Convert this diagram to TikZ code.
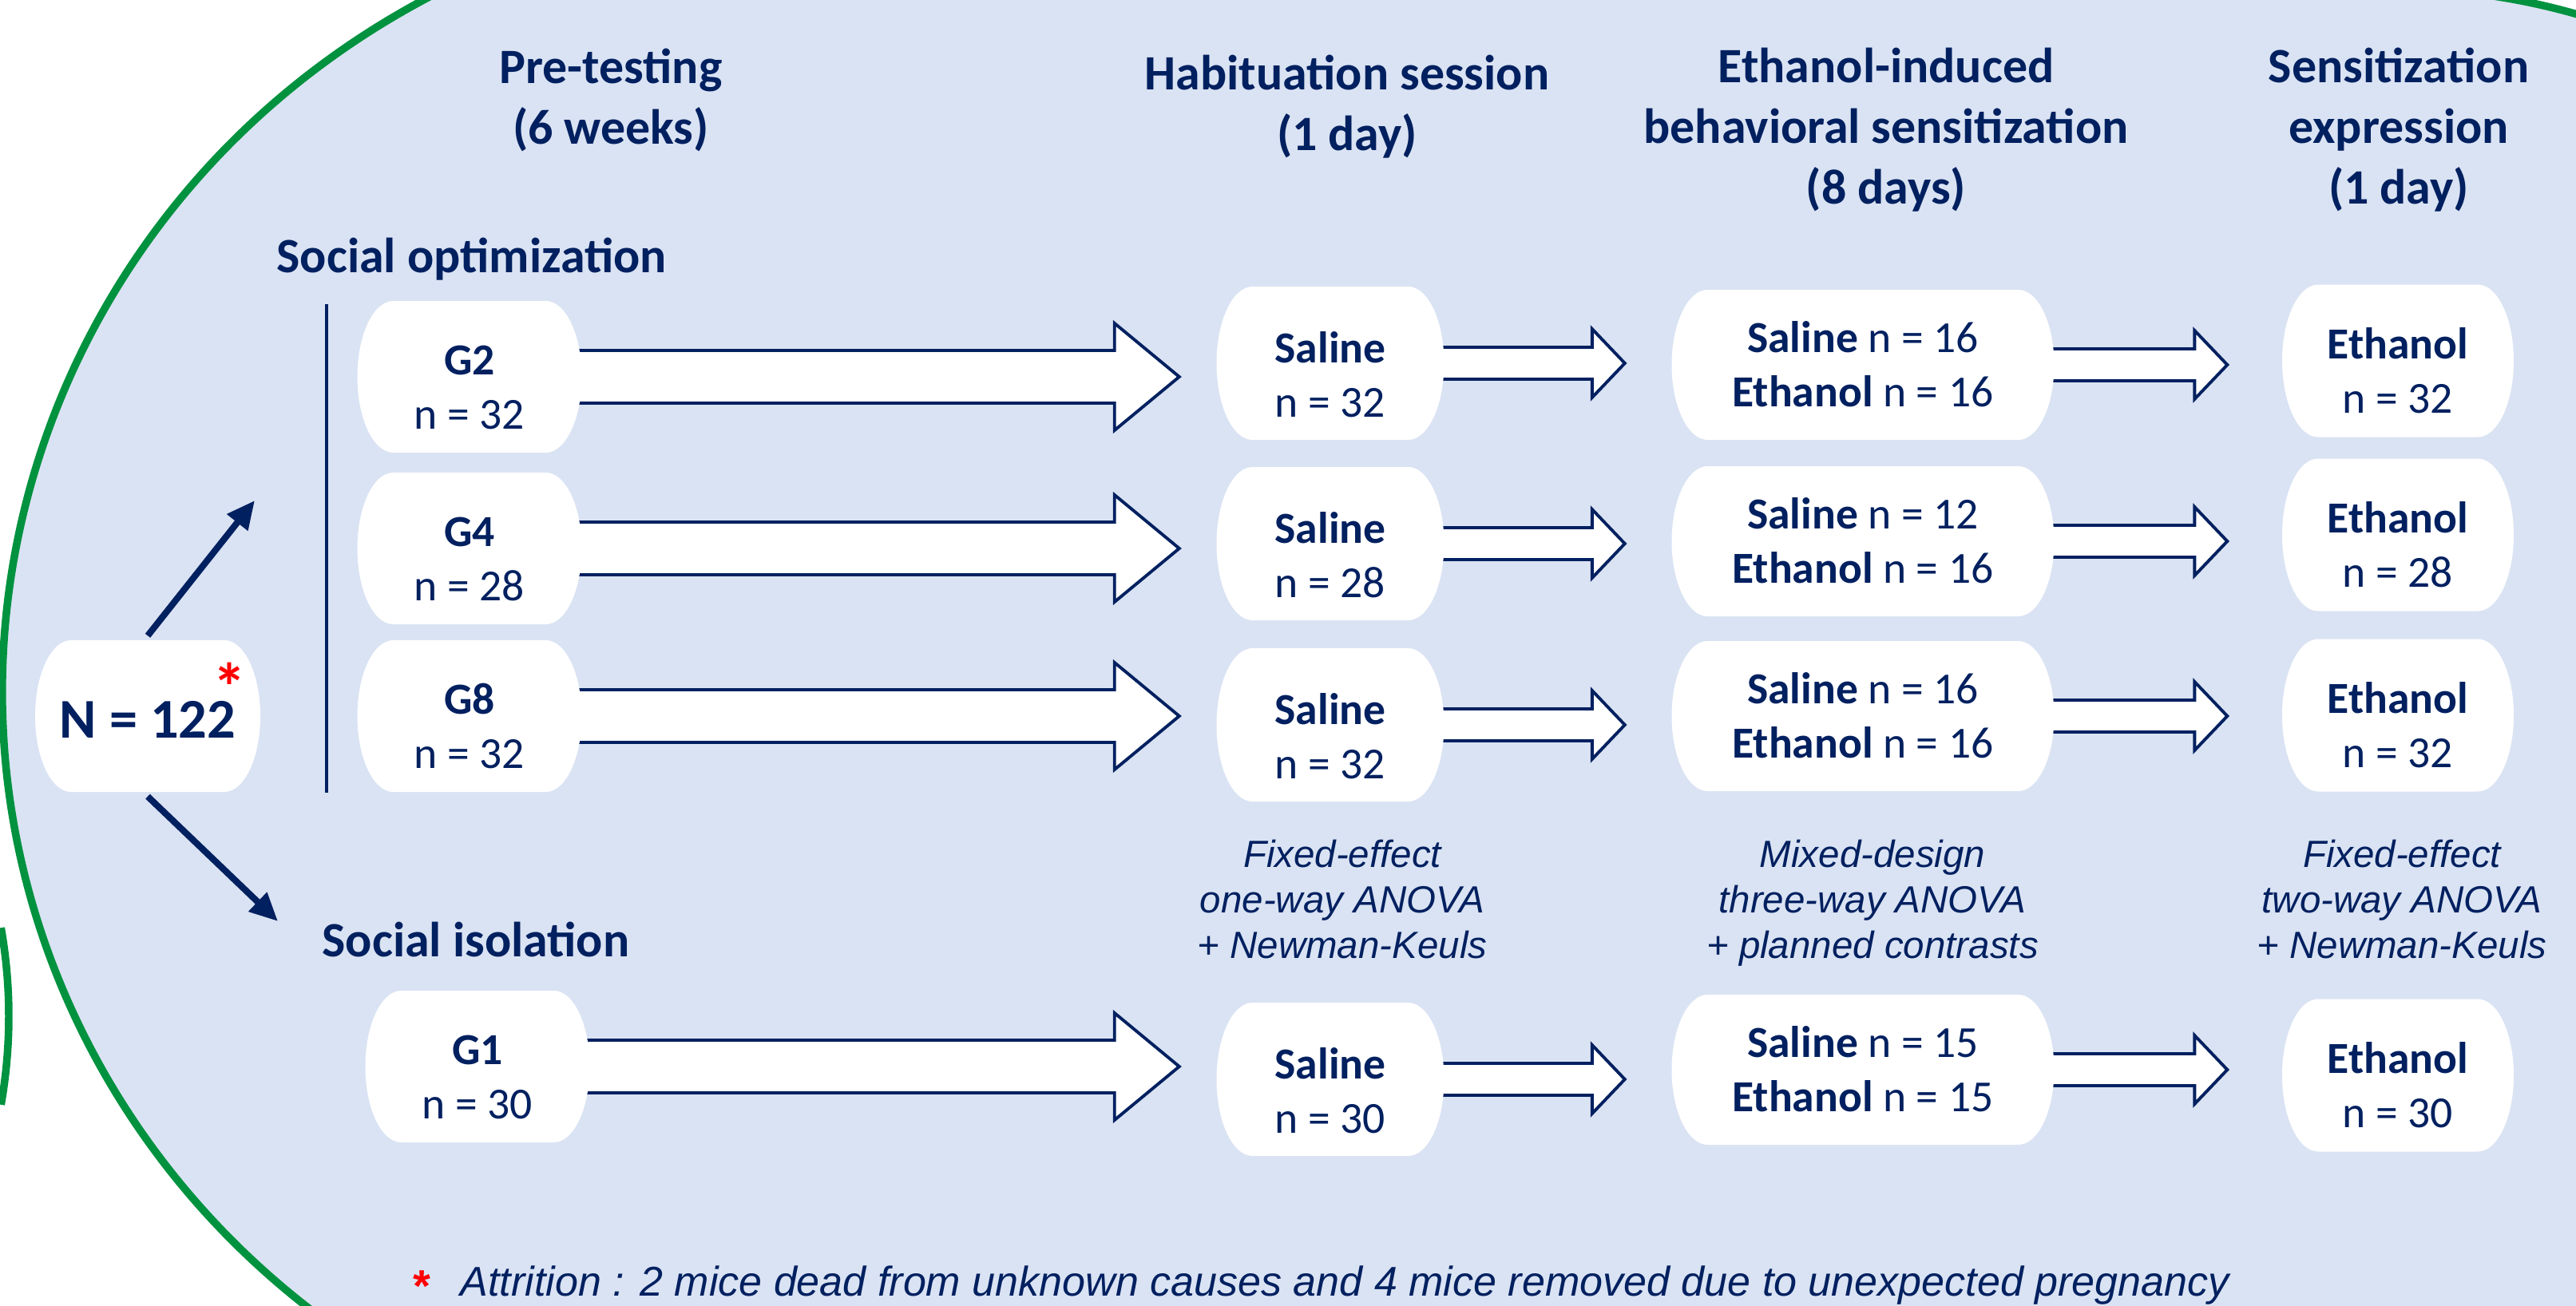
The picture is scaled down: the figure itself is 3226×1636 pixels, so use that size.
\documentclass[tikz,border=0pt]{standalone}
\usepackage{fontspec}
\setmainfont{Carlito}
\newfontfamily\arialfont{Liberation Sans}
\usetikzlibrary{calc,arrows.meta}

\definecolor{navy}{RGB}{0,32,96}
\definecolor{panelblue}{RGB}{218,227,243}
\definecolor{framegreen}{RGB}{0,146,63}

\pgfdeclarelayer{back}
\pgfdeclarelayer{mid}
\pgfsetlayers{back,mid,main}

\tikzset{
  boxtext/.style={text=navy,font=\fontsize{15.8}{19.1}\selectfont,align=center,inner sep=0pt},
  headtext/.style={text=navy,font=\fontsize{17.6}{21.6}\selectfont\bfseries,align=center,inner sep=0pt},
  stattext/.style={text=navy,font=\arialfont\itshape\fontsize{13.5}{16.2}\selectfont,align=center,inner sep=0pt},
  fatline/.style={draw=navy,fill=white,line width=1.1pt,line join=miter},
  splitarrow/.style={draw=navy,line width=2.3pt,-{Triangle[length=10pt,width=9pt]}},
  framecurve/.style={draw=framegreen,line width=2.7pt},
}

% white box with bulging sides, and its named node
\newcommand{\pill}[7]{% name, x, y, width, height, last baseline offset, text
  \fill[white] (#2-#4/2+45,#3-#5/2) -- (#2+#4/2-45,#3-#5/2)
    arc[start angle=-90,end angle=90,x radius=45,y radius=#5/2]
    -- (#2-#4/2+45,#3+#5/2)
    arc[start angle=90,end angle=270,x radius=45,y radius=#5/2] -- cycle;
  \pgfmathsetmacro\pillht{(100+#6)*0.01}
  \pgfmathsetmacro\pilldp{(100-#6)*0.01}
  \node[boxtext,minimum width=#4*0.01cm,minimum height=#5*0.01cm,
        text height=\pillht cm,text depth=\pilldp cm] (#1) at (#2,#3) {#7};
}

% hollow block arrow from one box towards the next
\newcommand{\fatarrow}[6]{% from, to, gap, body half, head half, head length
  \path (#1.center) coordinate (fa-s) (#1.center -| #2.west) coordinate (fa-t);
  \draw[fatline] ($(fa-s)+(0,-#4)$) -- ($(fa-t)+(-#3-#6,-#4)$)
    -- ($(fa-t)+(-#3-#6,-#5)$) -- ($(fa-t)+(-#3,0)$)
    -- ($(fa-t)+(-#3-#6,#5)$) -- ($(fa-t)+(-#3-#6,#4)$)
    -- ($(fa-s)+(0,#4)$) -- cycle;
}

\begin{document}
\begin{tikzpicture}[x=0.01cm,y=-0.01cm]
  \useasboundingbox (0,0) rectangle (3226,1636);

  % ---------------- panel ----------------
  \begin{pgfonlayer}{back}
    \fill[white] (0,0) rectangle (3226,1636);
    \clip (0,0) rectangle (3226,1636);
    \path[fill=panelblue,framecurve]
      (1029,866) ++(242.6:1026 and 991)
      arc[start angle=242.6,end angle=125,x radius=1026,y radius=991]
      -- (3260,1700) -- (3260,28)
      arc[start angle=-71.6,end angle=-90,radius=823] -- cycle;
    \draw[framecurve] (-627,1273) ++(-10:638) arc[start angle=-10,end angle=10,radius=638];
  \end{pgfonlayer}

  % ---------------- column headers ----------------
  \node[headtext,anchor=base] (hdpre) at (765,180) {Pre-testing\\(6 weeks)};
  \node[headtext,anchor=base] (hdhab) at (1687,188) {Habituation session\\(1 day)};
  \node[headtext,anchor=base] (hdsen) at (2362,255) {Ethanol-induced\\behavioral sensitization\\(8 days)};
  \node[headtext,anchor=base] (hdexp) at (3004,255) {Sensitization\\expression\\(1 day)};

  % ---------------- housing groups ----------------
  \node[headtext,anchor=base west] (opt) at (346,341) {Social optimization};
  \node[headtext,anchor=base west] (iso) at (403,1198) {Social isolation};
  \draw[navy,line width=1.1pt] (409,381) -- (409,993);

  \pill{N}{185}{897}{282}{190}{27}{\fontsize{20}{24}\selectfont\bfseries N = 122}
  \node[text=red,font=\fontsize{24}{26}\selectfont\bfseries,anchor=base,inner sep=0pt] (ast) at (288,890) {*};
  \coordinate (optend) at (319,627);
  \coordinate (isoend) at (348,1154);
  \draw[splitarrow] (N.north) -- (optend);
  \draw[splitarrow] (N.south) -- (isoend);

  % ---------------- rows: pre-testing -> habituation -> induction -> expression ----------------
  \foreach \grp/\nn/\gx/\ya/\yb/\yc/\yd/\nsal/\neth in {
      G2/32/588/472/455/457/452/16/16,
      G4/28/588/687/681/678/670/12/16,
      G8/32/588/897/908/897/896/16/16,
      G1/30/598/1336/1352/1340/1347/15/15}{
    \pill{\grp}{\gx}{\ya}{281}{190}{65}{\textbf{\grp}\\n = \nn}
    \pill{hab\grp}{1666}{\yb}{285}{192}{67}{\textbf{Saline}\\n = \nn}
    \pill{sen\grp}{2333}{\yc}{479}{188}{52}{\textbf{Saline} n = \nsal\\\textbf{Ethanol} n = \neth}
    \pill{exp\grp}{3003}{\yd}{290}{191}{65}{\textbf{Ethanol}\\n = \nn}
    \begin{pgfonlayer}{mid}
      \fatarrow{\grp}{hab\grp}{46}{33}{67}{81}
      \fatarrow{hab\grp}{sen\grp}{58}{20}{43}{41}
      \fatarrow{sen\grp}{exp\grp}{68}{20}{43}{41}
    \end{pgfonlayer}
  }

  % ---------------- statistics ----------------
  \node[stattext,anchor=base] (st1) at (1681,1200) {Fixed-effect\\one-way ANOVA\\+ Newman-Keuls};
  \node[stattext,anchor=base] (st2) at (2345,1200) {Mixed-design\\three-way ANOVA\\+ planned contrasts};
  \node[stattext,anchor=base] (st3) at (3008,1200) {Fixed-effect\\two-way ANOVA\\+ Newman-Keuls};

  % ---------------- footnote ----------------
  \node[text=red,font=\arialfont\bfseries\fontsize{16}{19}\selectfont,anchor=base,inner sep=0pt] (noteast) at (528,1630) {*};
  \node[text=navy,font=\arialfont\itshape\fontsize{14.8}{18}\selectfont,anchor=base west,inner sep=0pt] (note) at (576,1623)
    {Attrition : 2 mice dead from unknown causes and 4 mice removed due to unexpected pregnancy};
\end{tikzpicture}
\end{document}
